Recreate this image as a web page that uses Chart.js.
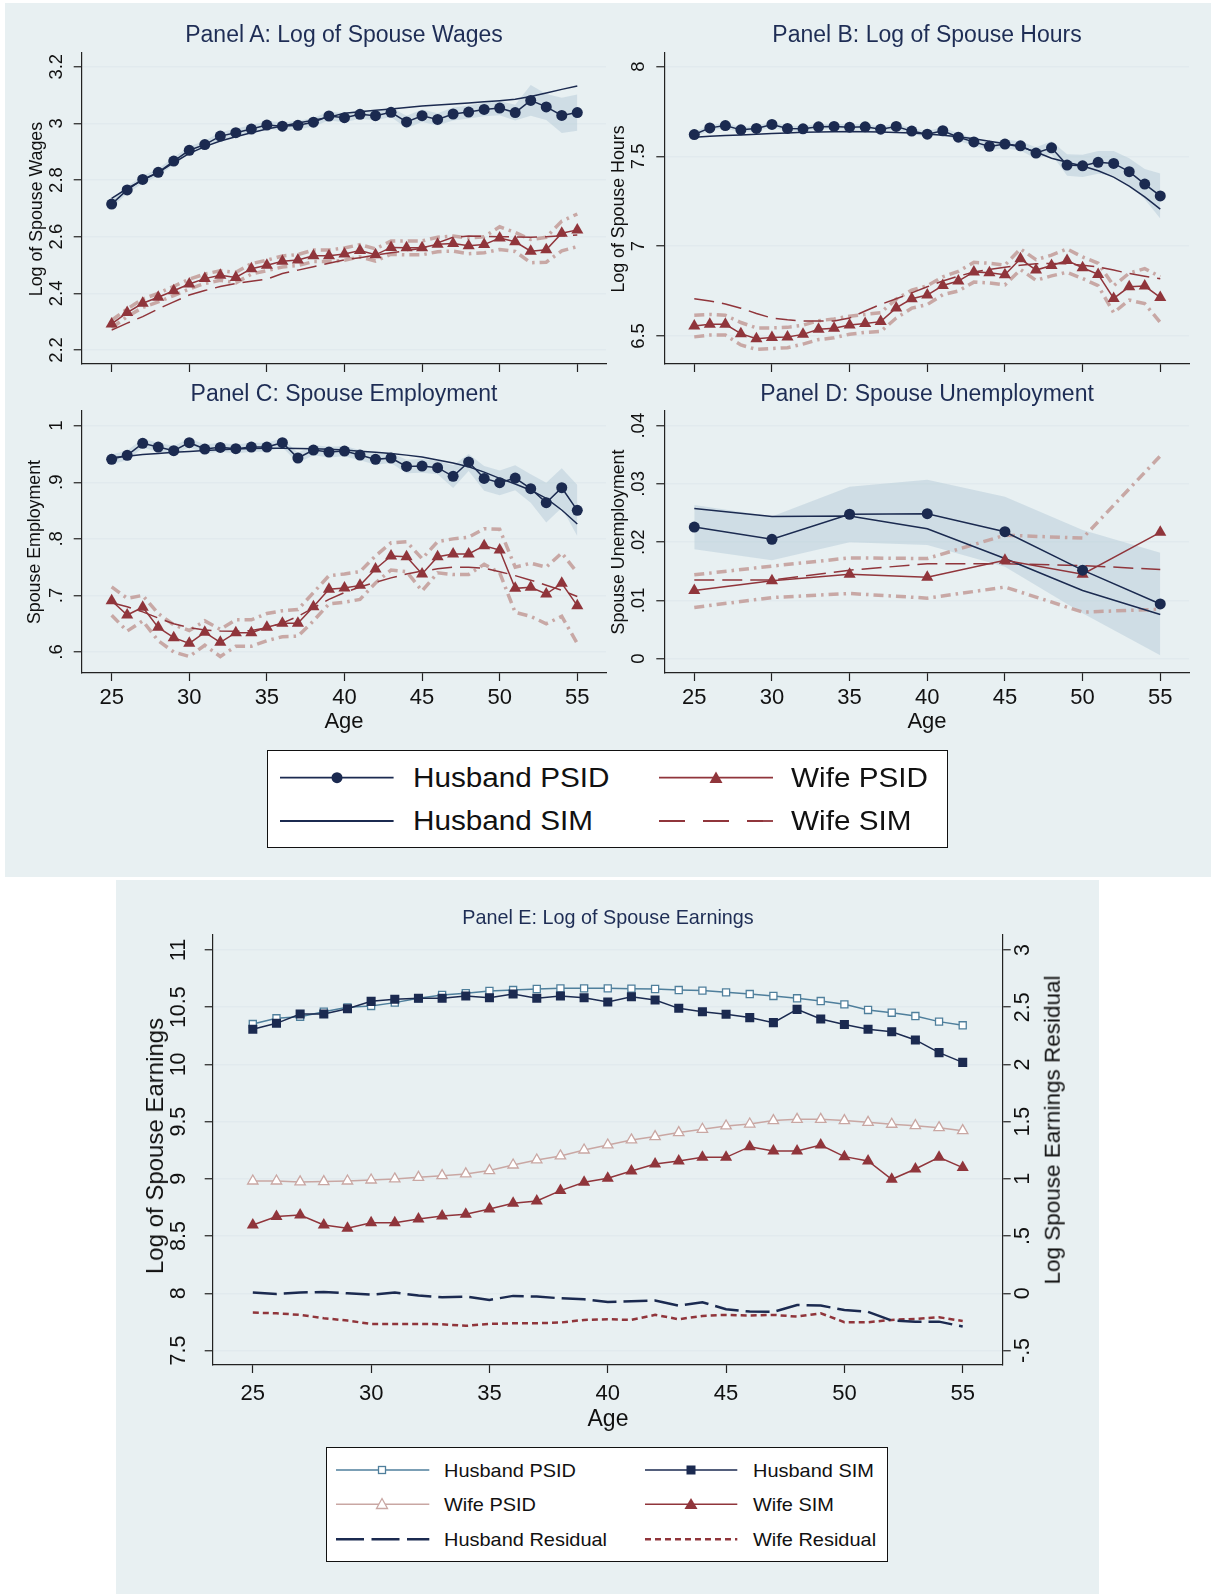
<!DOCTYPE html>
<html>
<head>
<meta charset="utf-8">
<script src="https://cdn.jsdelivr.net/npm/chart.js@4.4.0/dist/chart.umd.min.js"></script>
<style>
body { margin: 0; background: #fff; font-family: "Liberation Sans", Arial, Helvetica, sans-serif; color: #111; }
#page { position: relative; width: 1211px; height: 1594px; overflow: hidden; }
.bg { position: absolute; background: #e8f0f2; }
canvas { position: absolute; }
.t { position: absolute; transform: translate(-50%, -50%); white-space: nowrap; line-height: 1; }
.ptitle { color: #1e2d55; font-size: 23px; }
.vt { position: absolute; transform: translate(-50%, -50%) rotate(-90deg); white-space: nowrap; line-height: 1; }
.lt { position: absolute; transform: translate(0, -50%) scaleX(1.1); transform-origin: left center; white-space: nowrap; line-height: 1; }
.lbox { position: absolute; background: #fff; border: 1.5px solid #111; box-sizing: border-box; }
</style>
</head>
<body>
<div id="page">
  <div class="bg" style="left:5px;top:3px;width:1206px;height:874px;"></div>
  <div class="bg" style="left:116px;top:880px;width:983px;height:714px;"></div>

  <canvas id="panelA" width="575" height="335" style="left:40px;top:45px;"></canvas>
  <canvas id="panelB" width="575" height="335" style="left:623px;top:45px;"></canvas>
  <canvas id="panelC" width="575" height="310" style="left:40px;top:400px;"></canvas>
  <canvas id="panelD" width="575" height="310" style="left:623px;top:400px;"></canvas>
  <canvas id="panelE" width="915" height="480" style="left:130px;top:925px;"></canvas>

  <div class="t ptitle" style="left:344px;top:33.5px;">Panel A: Log of Spouse Wages</div>
  <div class="t ptitle" style="left:927px;top:33.5px;">Panel B: Log of Spouse Hours</div>
  <div class="t ptitle" style="left:344px;top:393px;">Panel C: Spouse Employment</div>
  <div class="t ptitle" style="left:927px;top:393px;">Panel D: Spouse Unemployment</div>
  <div class="t ptitle" style="left:608px;top:918px;font-size:19.8px;">Panel E: Log of Spouse Earnings</div>

  <div class="vt" style="left:36.7px;top:209px;font-size:17.8px;">Log of Spouse Wages</div>
  <div class="vt" style="left:618.7px;top:209px;font-size:17.8px;">Log of Spouse Hours</div>
  <div class="vt" style="left:35px;top:542px;font-size:17.8px;">Spouse Employment</div>
  <div class="vt" style="left:618.7px;top:542px;font-size:17.8px;">Spouse Unemployment</div>
  <div class="vt" style="left:155px;top:1146px;font-size:24px;">Log of Spouse Earnings</div>
  <div class="vt" style="left:1053px;top:1130px;font-size:22.5px;">Log Spouse Earnings Residual</div>

  <div class="t" style="left:344px;top:720.7px;font-size:22px;">Age</div>
  <div class="t" style="left:927px;top:720.7px;font-size:22px;">Age</div>
  <div class="t" style="left:608px;top:1418px;font-size:23px;">Age</div>

  <div class="lbox" style="left:267px;top:750px;width:681px;height:98px;"></div>
  <div class="lt" style="left:413px;top:777.7px;font-size:27px;">Husband PSID</div>
  <div class="lt" style="left:413px;top:821px;font-size:27px;">Husband SIM</div>
  <div class="lt" style="left:791px;top:777.7px;font-size:27px;">Wife PSID</div>
  <div class="lt" style="left:791px;top:821px;font-size:27px;">Wife SIM</div>

  <div class="lbox" style="left:326px;top:1447px;width:562px;height:115px;"></div>
  <div class="lt" style="left:444px;top:1470px;font-size:19px;transform:translate(0,-50%) scaleX(1.05);">Husband PSID</div>
  <div class="lt" style="left:752.7px;top:1470px;font-size:19px;transform:translate(0,-50%) scaleX(1.05);">Husband SIM</div>
  <div class="lt" style="left:444px;top:1504.3px;font-size:19px;transform:translate(0,-50%) scaleX(1.05);">Wife PSID</div>
  <div class="lt" style="left:752.7px;top:1504.3px;font-size:19px;transform:translate(0,-50%) scaleX(1.05);">Wife SIM</div>
  <div class="lt" style="left:444px;top:1539.3px;font-size:19px;transform:translate(0,-50%) scaleX(1.05);">Husband Residual</div>
  <div class="lt" style="left:752.7px;top:1539.3px;font-size:19px;transform:translate(0,-50%) scaleX(1.05);">Wife Residual</div>

  <svg width="1211" height="1594" style="position:absolute;left:0;top:0;">
    <!-- top legend keys -->
    <line x1="280" y1="777.7" x2="393.6" y2="777.7" stroke="#1b2a50" stroke-width="1.8"/>
    <circle cx="337" cy="777.7" r="5.5" fill="#1b2a50"/>
    <line x1="280" y1="821" x2="393.6" y2="821" stroke="#1b2a50" stroke-width="1.8"/>
    <line x1="659" y1="777.7" x2="773" y2="777.7" stroke="#90353b" stroke-width="1.8"/>
    <polygon points="716,771.5 722.5,783 709.5,783" fill="#90353b"/>
    <line x1="659" y1="821" x2="773" y2="821" stroke="#90353b" stroke-width="1.8" stroke-dasharray="26 18"/>
    <!-- panel E legend keys -->
    <line x1="336" y1="1470" x2="429.3" y2="1470" stroke="#4f7f9c" stroke-width="1.5"/>
    <rect x="378.5" y="1466.5" width="7" height="7" fill="#fff" stroke="#4f7f9c" stroke-width="1.3"/>
    <line x1="645" y1="1470" x2="737.3" y2="1470" stroke="#1b2a50" stroke-width="1.5"/>
    <rect x="686.5" y="1465.5" width="9" height="9" fill="#1b2a50"/>
    <line x1="336" y1="1504.3" x2="429.3" y2="1504.3" stroke="#c9a7a3" stroke-width="1.5"/>
    <polygon points="382,1498.5 387.5,1508.5 376.5,1508.5" fill="#fff" stroke="#c9a7a3" stroke-width="1.3"/>
    <line x1="645" y1="1504.3" x2="737.3" y2="1504.3" stroke="#90353b" stroke-width="1.5"/>
    <polygon points="691,1498 697.5,1509 684.5,1509" fill="#90353b"/>
    <line x1="336" y1="1539.3" x2="429.3" y2="1539.3" stroke="#1b2a50" stroke-width="2.5" stroke-dasharray="28 7.5"/>
    <line x1="645" y1="1539.3" x2="737.3" y2="1539.3" stroke="#90353b" stroke-width="2.5" stroke-dasharray="6 4"/>
  </svg>
</div>

<script>
// ages on the x axis
const ages = [25,26,27,28,29,30,31,32,33,34,35,36,37,38,39,40,41,42,43,44,45,46,47,48,49,50,51,52,53,54,55];
const ages5 = [25,30,35,40,45,50,55];
const ageTicks = [25,30,35,40,45,50,55];
const ageLabels = ['25','30','35','40','45','50','55'];

// Panel A: log of spouse wages
const wagesHusPsid = [2.715,2.765,2.802,2.827,2.867,2.905,2.925,2.955,2.967,2.980,2.994,2.990,2.993,3.004,3.026,3.020,3.032,3.027,3.039,3.005,3.027,3.014,3.033,3.040,3.049,3.054,3.038,3.081,3.058,3.028,3.038];
const wagesHusSim = [2.735,2.770,2.800,2.826,2.861,2.894,2.918,2.938,2.953,2.967,2.980,2.991,3.001,3.011,3.022,3.036,3.041,3.046,3.051,3.056,3.061,3.065,3.068,3.072,3.076,3.080,3.085,3.095,3.107,3.120,3.132];
const wagesHusHi = [2.728,2.778,2.815,2.840,2.880,2.918,2.939,2.969,2.981,2.994,3.008,3.004,3.008,3.019,3.042,3.036,3.048,3.043,3.056,3.027,3.049,3.036,3.056,3.063,3.073,3.079,3.066,3.135,3.104,3.090,3.102];
const wagesHusLo = [2.702,2.752,2.789,2.814,2.854,2.892,2.911,2.941,2.953,2.966,2.980,2.976,2.978,2.989,3.010,3.004,3.016,3.011,3.022,2.983,3.005,2.992,3.010,3.017,3.025,3.029,3.010,3.027,3.012,2.966,2.974];
const wagesWifePsid = [2.292,2.332,2.365,2.386,2.409,2.433,2.452,2.464,2.456,2.487,2.499,2.513,2.518,2.533,2.533,2.539,2.551,2.536,2.562,2.561,2.561,2.573,2.576,2.568,2.572,2.595,2.582,2.549,2.554,2.612,2.624];
const wagesWifeSim = [2.270,2.295,2.318,2.345,2.370,2.394,2.410,2.424,2.435,2.443,2.450,2.470,2.482,2.494,2.506,2.518,2.526,2.535,2.543,2.551,2.559,2.578,2.598,2.602,2.601,2.600,2.599,2.598,2.600,2.603,2.606];
const wagesWifeHi = [2.305,2.345,2.380,2.400,2.425,2.450,2.468,2.480,2.474,2.505,2.517,2.532,2.537,2.553,2.553,2.560,2.572,2.557,2.585,2.585,2.585,2.598,2.602,2.595,2.600,2.635,2.615,2.590,2.598,2.655,2.680];
const wagesWifeLo = [2.278,2.318,2.350,2.370,2.392,2.415,2.435,2.446,2.437,2.468,2.480,2.493,2.498,2.512,2.512,2.517,2.529,2.514,2.538,2.536,2.536,2.547,2.549,2.540,2.543,2.555,2.548,2.508,2.510,2.550,2.565];
const wagesTicks = [2.2,2.4,2.6,2.8,3,3.2];
const wagesLabels = ['2.2','2.4','2.6','2.8','3','3.2'];

// Panel B: log of spouse hours
const hoursHusPsid = [7.622,7.659,7.672,7.648,7.656,7.678,7.656,7.654,7.665,7.667,7.663,7.665,7.652,7.667,7.641,7.624,7.643,7.607,7.581,7.556,7.569,7.559,7.519,7.548,7.452,7.448,7.467,7.461,7.415,7.346,7.280];
const hoursHusSim = [7.607,7.612,7.616,7.620,7.624,7.628,7.631,7.634,7.636,7.638,7.639,7.638,7.636,7.633,7.630,7.625,7.618,7.610,7.598,7.585,7.570,7.553,7.525,7.490,7.468,7.447,7.420,7.385,7.335,7.275,7.207];
const hoursHusHi = [7.637,7.674,7.687,7.663,7.671,7.693,7.671,7.669,7.680,7.682,7.678,7.680,7.667,7.682,7.657,7.641,7.662,7.627,7.603,7.578,7.593,7.585,7.551,7.584,7.512,7.510,7.530,7.530,7.490,7.430,7.405];
const hoursHusLo = [7.607,7.644,7.657,7.633,7.641,7.663,7.641,7.639,7.650,7.652,7.648,7.650,7.637,7.652,7.625,7.607,7.624,7.587,7.559,7.534,7.545,7.533,7.487,7.512,7.392,7.386,7.404,7.392,7.340,7.262,7.155];
const hoursWifePsid = [6.556,6.565,6.565,6.513,6.485,6.491,6.494,6.509,6.537,6.543,6.561,6.570,6.580,6.656,6.707,6.728,6.781,6.806,6.857,6.852,6.841,6.930,6.867,6.893,6.920,6.880,6.843,6.709,6.774,6.778,6.715];
const hoursWifeSim = [6.707,6.695,6.678,6.655,6.625,6.600,6.590,6.584,6.583,6.584,6.600,6.639,6.676,6.707,6.740,6.774,6.806,6.833,6.856,6.870,6.883,6.894,6.902,6.904,6.902,6.894,6.884,6.867,6.848,6.833,6.819];
const hoursWifeHi = [6.615,6.620,6.615,6.575,6.545,6.545,6.548,6.560,6.585,6.595,6.610,6.620,6.630,6.705,6.755,6.780,6.830,6.860,6.910,6.905,6.895,6.985,6.925,6.950,6.985,6.940,6.905,6.780,6.850,6.875,6.830];
const hoursWifeLo = [6.495,6.505,6.505,6.450,6.425,6.430,6.435,6.455,6.480,6.490,6.510,6.520,6.525,6.600,6.655,6.675,6.730,6.750,6.800,6.795,6.785,6.870,6.810,6.835,6.855,6.820,6.780,6.630,6.700,6.680,6.575];
const hoursTicks = [6.5,7,7.5,8];
const hoursLabels = ['6.5','7','7.5','8'];

// Panel C: spouse employment
const empHusPsid = [0.9405,0.9476,0.9688,0.9623,0.9558,0.9700,0.9588,0.9617,0.9594,0.9623,0.9623,0.9700,0.9429,0.9570,0.9535,0.9552,0.9482,0.9405,0.9429,0.9281,0.9287,0.9258,0.9105,0.9358,0.9069,0.8993,0.9075,0.8887,0.8639,0.8904,0.8504];
const empHusSim = [0.944,0.946,0.949,0.951,0.953,0.9546,0.956,0.9575,0.9588,0.9595,0.960,0.960,0.9598,0.9594,0.9585,0.957,0.955,0.9532,0.951,0.948,0.9445,0.9395,0.934,0.9275,0.918,0.907,0.897,0.886,0.8716,0.851,0.8262];
const empHusHi = [0.949,0.956,0.977,0.970,0.964,0.978,0.967,0.970,0.967,0.970,0.970,0.978,0.952,0.966,0.963,0.964,0.957,0.950,0.952,0.940,0.941,0.938,0.930,0.950,0.929,0.921,0.930,0.914,0.899,0.925,0.895];
const empHusLo = [0.932,0.939,0.961,0.954,0.948,0.962,0.951,0.954,0.951,0.954,0.954,0.962,0.934,0.948,0.944,0.946,0.939,0.931,0.934,0.916,0.917,0.914,0.890,0.920,0.885,0.877,0.886,0.864,0.829,0.855,0.805];
const empWifePsid = [0.6907,0.6654,0.6790,0.6436,0.6253,0.6153,0.6348,0.6171,0.6342,0.6342,0.6436,0.6507,0.6507,0.6801,0.7108,0.7131,0.7178,0.7467,0.7697,0.7685,0.7379,0.7685,0.7732,0.7732,0.7879,0.7803,0.7125,0.7143,0.7025,0.7214,0.6819];
const empWifeSim = [0.687,0.680,0.671,0.660,0.650,0.643,0.639,0.637,0.6365,0.638,0.643,0.651,0.663,0.678,0.693,0.705,0.715,0.723,0.731,0.738,0.743,0.747,0.750,0.750,0.748,0.742,0.735,0.727,0.718,0.709,0.698];
const empWifeHi = [0.715,0.695,0.700,0.668,0.648,0.638,0.655,0.640,0.657,0.657,0.668,0.673,0.675,0.705,0.735,0.738,0.742,0.770,0.793,0.795,0.765,0.795,0.800,0.803,0.818,0.817,0.750,0.757,0.750,0.775,0.740];
const empWifeLo = [0.665,0.637,0.655,0.620,0.600,0.592,0.612,0.592,0.610,0.610,0.620,0.627,0.628,0.655,0.685,0.688,0.693,0.722,0.745,0.742,0.708,0.740,0.737,0.737,0.755,0.740,0.670,0.663,0.650,0.663,0.615];
const empTicks = [0.6,0.7,0.8,0.9,1];
const empLabels = ['.6','.7','.8','.9','1'];

// Panel D: spouse unemployment (every 5 years)
const unempHusPsid = [0.0226,0.0205,0.0248,0.0249,0.0218,0.0152,0.0094];
const unempHusSim = [0.0258,0.0244,0.0245,0.0223,0.0172,0.0117,0.0076];
const unempHusHi = [0.0264,0.0244,0.0295,0.0307,0.0278,0.0221,0.0182];
const unempHusLo = [0.0188,0.0169,0.0200,0.0195,0.0158,0.0078,0.0006];
const unempWifePsid = [0.0117,0.0134,0.0145,0.0140,0.0169,0.0145,0.0217];
const unempWifeSim = [0.0135,0.0135,0.0152,0.0163,0.0163,0.0160,0.0153];
const unempWifeHi = [0.0144,0.0159,0.0173,0.0172,0.0212,0.0207,0.0348];
const unempWifeLo = [0.0088,0.0105,0.0112,0.0104,0.0123,0.0080,0.0085];
const unempTicks = [0,0.01,0.02,0.03,0.04];
const unempLabels = ['0','.01','.02','.03','.04'];

// Panel E: log of spouse earnings and residuals
const earnHusPsid = [10.353,10.403,10.417,10.461,10.499,10.511,10.540,10.578,10.607,10.622,10.642,10.650,10.659,10.665,10.665,10.665,10.662,10.659,10.650,10.645,10.630,10.615,10.598,10.578,10.554,10.525,10.476,10.452,10.423,10.374,10.342];
const earnHusSim = [10.307,10.359,10.441,10.441,10.487,10.551,10.569,10.578,10.578,10.598,10.583,10.615,10.578,10.598,10.583,10.546,10.592,10.563,10.490,10.461,10.438,10.409,10.365,10.481,10.397,10.348,10.307,10.286,10.214,10.103,10.018];
const earnWifePsid = [8.981,8.981,8.973,8.976,8.981,8.990,8.999,9.013,9.028,9.043,9.072,9.121,9.165,9.200,9.252,9.296,9.340,9.369,9.404,9.433,9.462,9.479,9.509,9.520,9.520,9.509,9.494,9.477,9.465,9.447,9.421];
const earnWifeSim = [8.597,8.670,8.684,8.597,8.568,8.617,8.617,8.649,8.676,8.690,8.737,8.786,8.807,8.897,8.970,9.005,9.069,9.130,9.156,9.188,9.188,9.281,9.244,9.244,9.296,9.194,9.156,8.996,9.086,9.188,9.098];
const residHus = [0.006,-0.006,0.006,0.012,0.000,-0.012,0.006,-0.020,-0.035,-0.029,-0.058,-0.023,-0.029,-0.044,-0.052,-0.076,-0.070,-0.064,-0.108,-0.079,-0.140,-0.160,-0.163,-0.102,-0.108,-0.146,-0.163,-0.239,-0.248,-0.248,-0.291];
const residWife = [-0.169,-0.175,-0.189,-0.218,-0.239,-0.268,-0.268,-0.268,-0.271,-0.285,-0.268,-0.262,-0.262,-0.256,-0.233,-0.227,-0.233,-0.189,-0.227,-0.198,-0.189,-0.195,-0.189,-0.204,-0.175,-0.253,-0.253,-0.233,-0.224,-0.210,-0.242];
const earnTicks = [7.5,8,8.5,9,9.5,10,10.5,11];
const earnLabels = ['7.5','8','8.5','9','9.5','10','10.5','11'];
const residTicks = [-0.5,0,0.5,1,1.5,2,2.5,3];
const residLabels = ['-.5','0','.5','1','1.5','2','2.5','3'];

// colours
const NAVY = '#1b2a50';
const MAROON = '#90353b';
const BAND = 'rgba(185,206,219,0.55)';
const CIPINK = 'rgba(196,160,156,0.9)';
const STEEL = '#4f7f9c';
const PINK = '#c9a7a3';
const AXIS = '#222';
const GRID = '#e1eaee';
const FONT = "'Liberation Sans', Arial, Helvetica, sans-serif";

const pts = (xs, ys) => xs.map((x, i) => ({x: x, y: ys[i]}));

// y tick labels drawn rotated (reading upwards), like the original
const rotLabels = {
    id: 'rotLabels',
    afterDraw(chart, args, opts) {
        if (!opts.items) return;
        const ctx = chart.ctx;
        opts.items.forEach(it => {
            const sc = chart.scales[it.axis];
            const x = it.side === 'left' ? sc.right - it.offset : sc.left + it.offset;
            ctx.save();
            ctx.font = it.size + 'px ' + FONT;
            ctx.fillStyle = '#111';
            ctx.textAlign = 'center';
            ctx.textBaseline = 'middle';
            it.values.forEach((v, i) => {
                const y = sc.getPixelForValue(v);
                ctx.save();
                ctx.translate(x, y);
                ctx.rotate(-Math.PI / 2);
                ctx.fillText(it.labels[i], 0, 0);
                ctx.restore();
            });
            ctx.restore();
        });
    }
};
Chart.register(rotLabels);

function yScale(pos, min, max, ticks, w, onChart) {
    return {
        type: 'linear', position: pos, min: min, max: max,
        afterBuildTicks: s => { s.ticks = ticks.map(v => ({value: v})); },
        afterFit: s => { s.width = w; },
        grid: {drawOnChartArea: onChart, color: GRID, lineWidth: 1.5, tickLength: 8, tickColor: AXIS, tickWidth: 1.2},
        border: {display: true, color: AXIS, width: 1.2},
        ticks: {display: false}
    };
}

function makePanel(id, o) {
    const scales = {
        x: {
            type: 'linear', min: o.xMin, max: o.xMax,
            afterBuildTicks: s => { s.ticks = ageTicks.map(v => ({value: v})); },
            afterFit: s => { s.height = o.xH; },
            grid: {drawOnChartArea: false, tickLength: 8, tickColor: AXIS, tickWidth: 1.2},
            border: {display: true, color: AXIS, width: 1.2},
            ticks: {
                display: o.showX, autoSkip: false, maxRotation: 0, minRotation: 0,
                padding: o.xPad, color: '#111', font: {family: FONT, size: o.xFont},
                callback: (v, i) => ageLabels[i]
            }
        },
        y: yScale('left', o.yMin, o.yMax, o.yTicks, o.yW, true)
    };
    const items = [{axis: 'y', side: 'left', offset: o.labOff, size: o.labSize, values: o.yTicks, labels: o.yLabels}];
    if (o.y2) {
        scales.y2 = yScale('right', o.y2.min, o.y2.max, o.y2.ticks, o.y2.w, false);
        items.push({axis: 'y2', side: 'right', offset: o.y2.labOff, size: o.labSize, values: o.y2.ticks, labels: o.y2.labels});
    }
    return new Chart(document.getElementById(id), {
        type: 'line',
        data: {datasets: o.datasets},
        options: {
            responsive: false, maintainAspectRatio: false, animation: false, devicePixelRatio: 1,
            events: [],
            layout: {padding: {top: o.padTop, right: o.padRight, left: 0, bottom: 0}, autoPadding: false},
            plugins: {legend: {display: false}, tooltip: {enabled: false}, rotLabels: {items: items}},
            scales: scales
        }
    });
}

// the usual set of series for panels A-D
function fourSeries(xs, husPsid, husSim, husHi, husLo, wifePsid, wifeSim, wifeHi, wifeLo) {
    return [
        {data: pts(xs, husPsid), borderColor: NAVY, backgroundColor: NAVY, borderWidth: 1.5, pointStyle: 'circle', pointRadius: 5.5, pointBorderWidth: 0, tension: 0, fill: false},
        {data: pts(xs, wifePsid), borderColor: MAROON, backgroundColor: MAROON, borderWidth: 1.5, pointStyle: 'triangle', pointRadius: 7, pointBorderWidth: 0, tension: 0, fill: false},
        {data: pts(xs, husSim), borderColor: NAVY, borderWidth: 1.5, pointRadius: 0, tension: 0, fill: false},
        {data: pts(xs, wifeSim), borderColor: MAROON, borderWidth: 1.5, borderDash: [20, 8], pointRadius: 0, tension: 0, fill: false},
        {data: pts(xs, wifeHi), borderColor: CIPINK, borderWidth: 3.5, borderDash: [10, 5, 2.5, 5], pointRadius: 0, tension: 0, fill: false},
        {data: pts(xs, wifeLo), borderColor: CIPINK, borderWidth: 3.5, borderDash: [10, 5, 2.5, 5], pointRadius: 0, tension: 0, fill: false},
        {data: pts(xs, husHi), borderColor: 'rgba(0,0,0,0)', borderWidth: 1, pointRadius: 0, tension: 0, fill: false},
        {data: pts(xs, husLo), borderColor: 'rgba(0,0,0,0)', borderWidth: 1, pointRadius: 0, tension: 0, fill: '-1', backgroundColor: BAND}
    ];
}

makePanel('panelA', {
    xMin: 23.07, xMax: 56.85, xH: 16, showX: false, xPad: 4, xFont: 22,
    yMin: 2.1506, yMax: 3.2494, yTicks: wagesTicks, yLabels: wagesLabels, yW: 41.7,
    padTop: 7.7, padRight: 9, labOff: 25, labSize: 18.5,
    datasets: fourSeries(ages, wagesHusPsid, wagesHusSim, wagesHusHi, wagesHusLo, wagesWifePsid, wagesWifeSim, wagesWifeHi, wagesWifeLo)
});

makePanel('panelB', {
    xMin: 23.07, xMax: 56.85, xH: 16, showX: false, xPad: 4, xFont: 22,
    yMin: 6.344, yMax: 8.076, yTicks: hoursTicks, yLabels: hoursLabels, yW: 41.3,
    padTop: 8, padRight: 9, labOff: 25, labSize: 18.5,
    datasets: fourSeries(ages, hoursHusPsid, hoursHusSim, hoursHusHi, hoursHusLo, hoursWifePsid, hoursWifeSim, hoursWifeHi, hoursWifeLo)
});

makePanel('panelC', {
    xMin: 23.07, xMax: 56.85, xH: 37, showX: true, xPad: 4, xFont: 22,
    yMin: 0.5629, yMax: 1.026, yTicks: empTicks, yLabels: empLabels, yW: 41.7,
    padTop: 11, padRight: 9, labOff: 25, labSize: 18.5,
    datasets: fourSeries(ages, empHusPsid, empHusSim, empHusHi, empHusLo, empWifePsid, empWifeSim, empWifeHi, empWifeLo)
});

makePanel('panelD', {
    xMin: 23.07, xMax: 56.85, xH: 37, showX: true, xPad: 4, xFont: 22,
    yMin: -0.00245, yMax: 0.04252, yTicks: unempTicks, yLabels: unempLabels, yW: 41.3,
    padTop: 11, padRight: 9, labOff: 25, labSize: 18.5,
    datasets: fourSeries(ages5, unempHusPsid, unempHusSim, unempHusHi, unempHusLo, unempWifePsid, unempWifeSim, unempWifeHi, unempWifeLo)
});

makePanel('panelE', {
    xMin: 23.305, xMax: 56.69, xH: 40, showX: true, xPad: 8, xFont: 22,
    yMin: 7.373, yMax: 11.131, yTicks: earnTicks, yLabels: earnLabels, yW: 82.7,
    padTop: 10, padRight: 0, labOff: 33.7, labSize: 21.5,
    y2: {min: -0.627, max: 3.131, ticks: residTicks, labels: residLabels, w: 42.3, labOff: 20.3},
    datasets: [
        {data: pts(ages, earnHusSim), borderColor: NAVY, backgroundColor: NAVY, borderWidth: 1.5, pointStyle: 'rect', pointRadius: 6.4, pointBorderWidth: 0, tension: 0, fill: false},
        {data: pts(ages, earnHusPsid), borderColor: STEEL, backgroundColor: '#fff', borderWidth: 1.5, pointStyle: 'rect', pointRadius: 5, pointBorderWidth: 1.3, tension: 0, fill: false},
        {data: pts(ages, earnWifeSim), borderColor: MAROON, backgroundColor: MAROON, borderWidth: 1.5, pointStyle: 'triangle', pointRadius: 7, pointBorderWidth: 0, tension: 0, fill: false},
        {data: pts(ages, earnWifePsid), borderColor: PINK, backgroundColor: '#fff', borderWidth: 1.5, pointStyle: 'triangle', pointRadius: 6, pointBorderWidth: 1.3, tension: 0, fill: false},
        {data: pts(ages, residHus), yAxisID: 'y2', borderColor: NAVY, borderWidth: 2.5, borderDash: [24, 7], pointRadius: 0, tension: 0, fill: false},
        {data: pts(ages, residWife), yAxisID: 'y2', borderColor: MAROON, borderWidth: 2.5, borderDash: [6, 4], pointRadius: 0, tension: 0, fill: false}
    ]
});
</script>
</body>
</html>
